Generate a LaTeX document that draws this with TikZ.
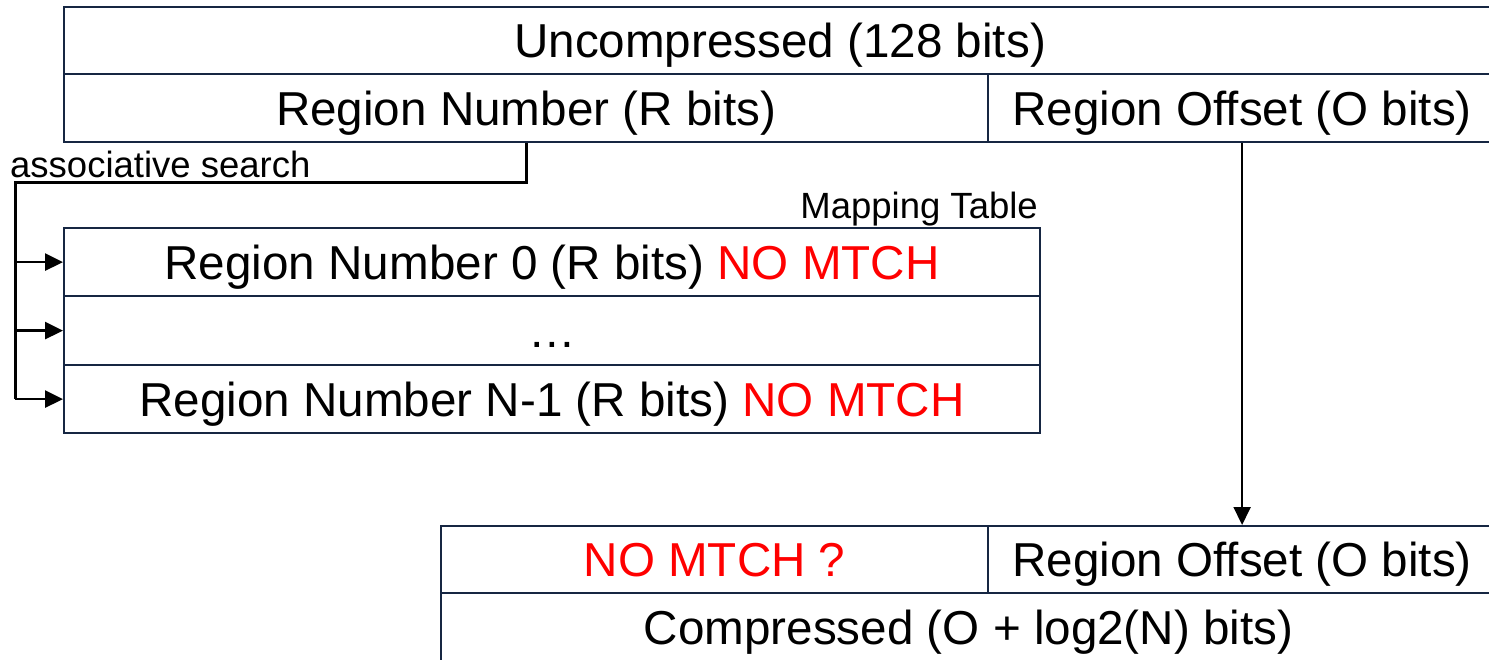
\documentclass[tikz,border=0pt]{standalone}
\usepackage{fontspec}
\setmainfont{Liberation Sans}
\usetikzlibrary{arrows.meta}
\definecolor{cellline}{RGB}{22,38,66}
\definecolor{nomatch}{RGB}{255,0,0}
\newcommand{\nomtch}[1]{\textcolor{nomatch}{#1}}
\begin{document}
\begin{tikzpicture}[x=1pt,y=-1pt,
  cell/.style={draw=cellline, line width=2.2pt, anchor=north west, inner sep=0pt,
    font=\fontsize{47.6}{57}\selectfont, text height=34pt, text depth=0pt,
    minimum height=68pt},
  smalltext/.style={inner sep=0pt, font=\fontsize{36.5}{44}\selectfont},
  bus/.style={draw=black, line width=3pt},
  busarrow/.style={draw=black, line width=2.6pt, arrows={-Triangle[length=18pt,width=17pt]}},
  feed/.style={draw=black, line width=2pt, arrows={-Triangle[length=18pt,width=17pt]}}]
\useasboundingbox (0,0) rectangle (1489,659);
\clip (0,0) rectangle (1489,659);

% uncompressed address
\node[cell, minimum width=1432pt, minimum height=67pt] (unc) at (63,6) {Uncompressed (128 bits)};
\node[cell, minimum width=924pt] (rnum) at (63,73) {Region Number (R bits)};
\node[cell, minimum width=508pt] (roff) at (987,73) {Region Offset (O bits)};

% mapping table
\node[smalltext, anchor=base east] (mtlabel) at (1038,218) {Mapping Table};
\node[cell, minimum width=976pt] (m0) at (63,227) {Region Number 0 (R bits) \nomtch{NO MTCH}};
\node[cell, minimum width=976pt, minimum height=69pt] (m1) at (63,295) {…};
\node[cell, minimum width=976pt] (m2) at (63,364) {Region Number N-1 (R bits) \nomtch{NO MTCH}};

% compressed address
\node[cell, minimum width=547pt, minimum height=67pt] (bnum) at (440,525) {\nomtch{NO MTCH ?}};
\node[cell, minimum width=508pt, minimum height=67pt] (boff) at (987,525) {Region Offset (O bits)};
\node[cell, minimum width=1055pt] (comp) at (440,592) {Compressed (O + log2(N) bits)};

% associative search bus
\node[smalltext, anchor=base west] (search) at (10,177) {associative search};
\coordinate (bend) at (15,182);
\draw[bus] (rnum.south) |- (bend) -- (bend |- m2.west);
\draw[busarrow] (bend |- m0.west) -- (m0.west);
\draw[busarrow] (bend |- m1.west) -- (m1.west);
\draw[busarrow] (bend |- m2.west) -- (m2.west);

% offset passes straight through
\draw[feed] (roff.south) -- (boff.north);
\end{tikzpicture}
\end{document}
